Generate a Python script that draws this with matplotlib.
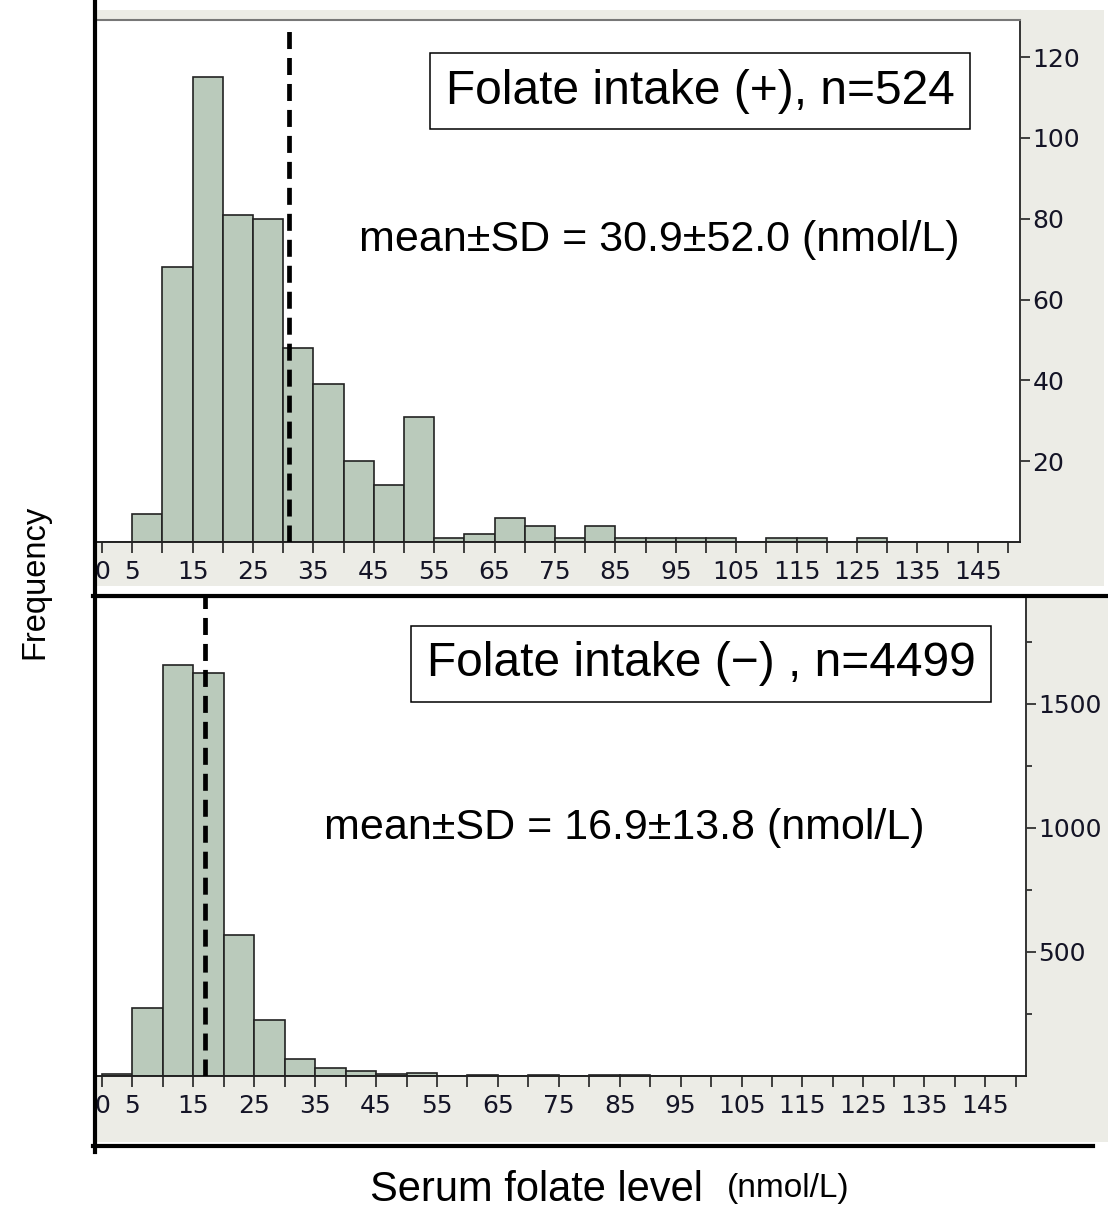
import matplotlib
matplotlib.use('Agg')
import matplotlib.pyplot as plt
from matplotlib.lines import Line2D
from matplotlib.patches import Rectangle
import numpy as np


# bin edges every 5 nmol/L, 0..150
BIN_LEFT = np.arange(0, 150, 5)
COUNTS_PLUS = [0, 7, 68, 115, 81, 80, 48, 39, 20, 14, 31, 1, 2, 6, 4,
               1, 4, 1, 1, 1, 1, 0, 1, 1, 0, 1, 0, 0, 0, 0]
COUNTS_MINUS = [8, 276, 1655, 1623, 567, 227, 70, 32, 22, 8, 14, 0, 6, 0, 6,
                0, 6, 6, 0, 0, 0, 0, 0, 0, 0, 0, 0, 0, 0, 0]
MEAN_PLUS = 30.9
MEAN_MINUS = 16.9
XTICKS = list(range(0, 155, 5))
XTICK_LABELS = [str(t) if (t == 0 or t % 10 == 5) else '' for t in XTICKS]
YTICKS_PLUS = [20, 40, 60, 80, 100, 120]
YTICKS_MINUS = [500, 1000, 1500]
YMINOR_MINUS = [250, 750, 1250, 1750]
TITLE_PLUS = 'Folate intake (+), n=524'
TITLE_MINUS = 'Folate intake (\u2212) , n=4499'
STAT_PLUS = 'mean\u00b1SD = 30.9\u00b152.0 (nmol/L)'
STAT_MINUS = 'mean\u00b1SD = 16.9\u00b113.8 (nmol/L)'

W, H = 1108, 1209
BAR_FILL = '#BACABB'
PANEL_GRAY = '#ECECE6'
TICK_COLOR = '#141426'

plt.rcParams['font.family'] = ['DejaVu Sans']


def fx(p):
    return p / W


def fy(p):
    return 1 - p / H


def setup_axis(ax, counts, mean, yticks, ylim, xlim, dash_top):
    ax.bar(BIN_LEFT, counts, width=5, align='edge', color=BAR_FILL,
           edgecolor='#222222', linewidth=1.2, zorder=2)
    ax.axvline(mean, ymin=0, ymax=dash_top, color='black', lw=3.4,
               linestyle=(0, (3.6, 1.9)), zorder=3)
    ax.set_xlim(*xlim)
    ax.set_ylim(*ylim)
    ax.set_xticks(XTICKS)
    ax.set_xticklabels(XTICK_LABELS)
    ax.set_yticks(yticks)
    ax.yaxis.tick_right()
    ax.tick_params(axis='x', direction='out', length=8, width=1.2,
                   color='#222222', pad=5, labelsize=18, labelcolor=TICK_COLOR)
    ax.tick_params(axis='y', which='major', direction='out', length=7,
                   width=1.2, color='#222222', pad=2, labelsize=18,
                   labelcolor=TICK_COLOR)
    ax.spines['left'].set_visible(False)
    ax.spines['top'].set_color('#777777')
    ax.spines['top'].set_linewidth(1.5)
    ax.spines['right'].set_color('#333333')
    ax.spines['right'].set_linewidth(1.4)
    ax.spines['bottom'].set_color('#222222')
    ax.spines['bottom'].set_linewidth(1.4)


fig = plt.figure(figsize=(W / 100, H / 100), dpi=100)

# JMP window backgrounds
fig.add_artist(Rectangle((fx(97), fy(586)), fx(1104) - fx(97), (586 - 10) / H,
                         transform=fig.transFigure, fc=PANEL_GRAY, ec='none',
                         zorder=-1))
fig.add_artist(Rectangle((fx(97), fy(1142)), fx(1108) - fx(97), (1142 - 597) / H,
                         transform=fig.transFigure, fc=PANEL_GRAY, ec='none',
                         zorder=-1))

ax1 = fig.add_axes([fx(97), fy(542), fx(1020) - fx(97), (542 - 20) / H])
setup_axis(ax1, COUNTS_PLUS, MEAN_PLUS, YTICKS_PLUS, (0, 129.2),
           (-0.83, 152.0), 0.987)

ax2 = fig.add_axes([fx(97), fy(1076), fx(1026) - fx(97), (1076 - 597) / H])
setup_axis(ax2, COUNTS_MINUS, MEAN_MINUS, YTICKS_MINUS, (0, 1930),
           (-0.82, 151.7), 1.0)
ax2.set_yticks(YMINOR_MINUS, minor=True)
ax2.tick_params(axis='y', which='minor', direction='out', length=4,
                width=1.2, color='#222222')

# titles and stats
box = dict(boxstyle='square,pad=0.32', fc='white', ec='black', lw=1.1)
fig.text(fx(700), fy(91), TITLE_PLUS, ha='center', va='center',
         fontsize=34.5, family='Liberation Sans', bbox=box, zorder=6)
fig.text(fx(701), fy(664), TITLE_MINUS, ha='center', va='center',
         fontsize=34.5, family='Liberation Sans', bbox=box, zorder=6)
fig.text(fx(659), fy(240), STAT_PLUS, ha='center', va='center',
         fontsize=31, family='Liberation Sans', zorder=6)
fig.text(fx(624), fy(828), STAT_MINUS, ha='center', va='center',
         fontsize=31, family='Liberation Sans', zorder=6)

# overlay axis labels and lines
fig.text(fx(35), fy(582), 'Frequency', rotation=90, ha='center',
         va='center', fontsize=23.5, family='Liberation Sans')
fig.text(fx(370), fy(1201), 'Serum folate level', ha='left',
         va='baseline', fontsize=30, family='Liberation Sans')
fig.text(fx(727), fy(1197), '(nmol/L)', ha='left', va='baseline',
         fontsize=24, family='Liberation Sans')

fig.add_artist(Line2D([fx(95), fx(95)], [fy(0), fy(1152)], color='black',
                      lw=3, transform=fig.transFigure, zorder=10))
fig.add_artist(Line2D([fx(93), fx(1108)], [fy(596), fy(596)], color='black',
                      lw=3, transform=fig.transFigure, zorder=10))
fig.add_artist(Line2D([fx(93), fx(1093)], [fy(1146), fy(1146)], color='black',
                      lw=3, transform=fig.transFigure, zorder=10))

fig.savefig('out.png', dpi=100)
